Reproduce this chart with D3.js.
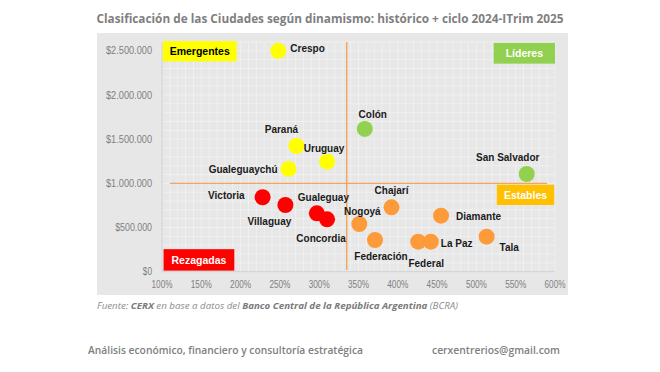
<!DOCTYPE html>
<html>
<head>
<meta charset="utf-8">
<script src="https://cdn.jsdelivr.net/npm/d3@7"></script>
<style>
  body { margin: 0; background: #fff; }
  svg { display: block; }
</style>
</head>
<body>
<svg id="chart" width="660" height="372"></svg>
<script>
// Datos
var ciudades = ["Crespo", "Paraná", "Uruguay", "Gualeguaychú", "Victoria", "Villaguay", "Gualeguay", "Concordia",
  "Colón", "San Salvador", "Chajarí", "Nogoyá", "Diamante", "Federación", "Federal", "La Paz", "Tala"];
var dinamismo = [248, 271, 310, 261, 228, 257, 297, 310, 358, 564, 392, 351, 455, 371, 426, 442, 513];
var valores = [2500000, 1423000, 1245000, 1163000, 843000, 755000, 661000, 593000,
  1616000, 1106000, 729000, 540000, 634000, 359000, 340000, 340000, 396000];
var grupos = ["Emergentes", "Emergentes", "Emergentes", "Emergentes", "Rezagadas", "Rezagadas", "Rezagadas", "Rezagadas",
  "Líderes", "Líderes", "Estables", "Estables", "Estables", "Estables", "Estables", "Estables", "Estables"];

var xTicks = [100, 150, 200, 250, 300, 350, 400, 450, 500, 550, 600];
var yTicks = [0, 500000, 1000000, 1500000, 2000000, 2500000];
var corteX = 335;       // promedio dinamismo
var corteY = 1000000;   // promedio valor

var colores = { "Emergentes": "#FFFF00", "Líderes": "#92D050", "Estables": "#FD9A3A", "Rezagadas": "#FF0000" };

// Posición de las etiquetas de cada ciudad (desplazamiento en px)
var etiquetas = {
  "Crespo": [12, -3, "start"], "Paraná": [-15, -17, "middle"], "Uruguay": [-3, -14, "middle"],
  "Gualeguaychú": [-11, 0, "end"], "Victoria": [-18, -2, "end"], "Villaguay": [-16, 16, "middle"],
  "Gualeguay": [-19, -16, "start"], "Concordia": [-6, 19, "middle"], "Colón": [8, -15, "middle"],
  "San Salvador": [-19, -17, "middle"], "Chajarí": [0, -17, "middle"], "Nogoyá": [3, -13, "middle"],
  "Diamante": [15, 0, "start"], "Federación": [6, 16, "middle"], "Federal": [8, 21, "middle"],
  "La Paz": [10, 1, "start"], "Tala": [13, 10, "start"]
};

var svg = d3.select("#chart");

var x = d3.scaleLinear().domain([100, 600]).range([162, 555]);
var y = d3.scaleLinear().domain([0, 2600000]).range([271.7, 42]);

// Título
svg.append("text")
  .attr("x", 330).attr("y", 23)
  .attr("text-anchor", "middle")
  .attr("font-family", "Open Sans, Noto Sans, sans-serif")
  .attr("font-weight", "bold").attr("font-size", 13)
  .attr("fill", "#7f7f7f")
  .attr("textLength", 467).attr("lengthAdjust", "spacingAndGlyphs")
  .text("Clasificación de las Ciudades según dinamismo: histórico + ciclo 2024-ITrim 2025");

// Fondo gris
svg.append("rect").attr("x", 97).attr("y", 33).attr("width", 471).attr("height", 262).attr("fill", "#e7e7e7");

// Rejilla fina
var minX = d3.range(100, 601, 10), minY = d3.range(0, 2600001, 100000);
svg.append("g").selectAll("line").data(minX).enter().append("line")
  .attr("x1", function(d) { return x(d); }).attr("x2", function(d) { return x(d); })
  .attr("y1", y(0)).attr("y2", y(2600000))
  .attr("stroke", "#f3f3f3").attr("stroke-width", 0.7);
svg.append("g").selectAll("line").data(minY).enter().append("line")
  .attr("x1", x(100)).attr("x2", x(600))
  .attr("y1", function(d) { return y(d); }).attr("y2", function(d) { return y(d); })
  .attr("stroke", "#f3f3f3").attr("stroke-width", 0.7);

// Ejes
svg.append("line").attr("x1", x(100)).attr("x2", x(100)).attr("y1", y(0)).attr("y2", y(2600000))
  .attr("stroke", "#cfcfcf");
svg.append("line").attr("x1", x(100)).attr("x2", x(600)).attr("y1", y(0)).attr("y2", y(0))
  .attr("stroke", "#cfcfcf");

var fmt = function(d) { return "$" + d3.format(",")(d).replace(/,/g, "."); };

svg.append("g").selectAll("text").data(yTicks).enter().append("text")
  .attr("x", 152).attr("y", function(d) { return y(d) + 3.5; })
  .attr("text-anchor", "end")
  .attr("font-family", "Liberation Sans, Arial, sans-serif")
  .attr("font-size", 10).attr("fill", "#7f7f7f")
  .attr("textLength", function(d) { return fmt(d).length * 4.6; })
  .attr("lengthAdjust", "spacingAndGlyphs")
  .text(fmt);

svg.append("g").selectAll("text").data(xTicks).enter().append("text")
  .attr("x", function(d) { return x(d); }).attr("y", 288)
  .attr("text-anchor", "middle")
  .attr("font-family", "Liberation Sans, Arial, sans-serif")
  .attr("font-size", 10).attr("fill", "#7f7f7f")
  .attr("textLength", 21).attr("lengthAdjust", "spacingAndGlyphs")
  .text(function(d) { return d + "%"; });

// Líneas de corte
svg.append("line").attr("x1", x(corteX)).attr("x2", x(corteX)).attr("y1", y(2600000)).attr("y2", y(0) - 2)
  .attr("stroke", "#F4A55C").attr("stroke-width", 1.4);
svg.append("line").attr("x1", x(110)).attr("x2", x(590)).attr("y1", y(corteY)).attr("y2", y(corteY))
  .attr("stroke", "#F4A55C").attr("stroke-width", 1.4);

// Cajas de cuadrante
var cajas = [
  { t: "Emergentes", x0: 101, x1: 195, y0: 2610000, y1: 2380000, fg: "#000", bg: "#FFFF00" },
  { t: "Líderes", x0: 522, x1: 600, y0: 2590000, y1: 2355000, fg: "#fff", bg: "#92D050" },
  { t: "Estables", x0: 526, x1: 599, y0: 985000, y1: 755000, fg: "#fff", bg: "#FFC000" },
  { t: "Rezagadas", x0: 102, x1: 192, y0: 255000, y1: 12000, fg: "#fff", bg: "#FF0000" }
];
var gc = svg.append("g").selectAll("g").data(cajas).enter().append("g");
gc.append("rect")
  .attr("x", function(d) { return x(d.x0); }).attr("y", function(d) { return y(d.y0); })
  .attr("width", function(d) { return x(d.x1) - x(d.x0); })
  .attr("height", function(d) { return y(d.y1) - y(d.y0); })
  .attr("fill", function(d) { return d.bg; });
gc.append("text")
  .attr("x", function(d) { return (x(d.x0) + x(d.x1)) / 2; })
  .attr("y", function(d) { return (y(d.y0) + y(d.y1)) / 2 + 4; })
  .attr("text-anchor", "middle")
  .attr("font-family", "Liberation Sans, Arial, sans-serif")
  .attr("font-weight", "bold").attr("font-size", 10.5)
  .attr("fill", function(d) { return d.fg; })
  .text(function(d) { return d.t; });

// Puntos
var puntos = ciudades.map(function(c, i) {
  return { c: c, x: dinamismo[i], y: valores[i], g: grupos[i] };
});
svg.append("g").selectAll("circle").data(puntos).enter().append("circle")
  .attr("cx", function(d) { return x(d.x); }).attr("cy", function(d) { return y(d.y); })
  .attr("r", 8)
  .attr("fill", function(d) { return colores[d.g]; });

svg.append("g").selectAll("text").data(puntos).enter().append("text")
  .attr("x", function(d) { return x(d.x) + etiquetas[d.c][0]; })
  .attr("y", function(d) { return y(d.y) + etiquetas[d.c][1] + 4; })
  .attr("text-anchor", function(d) { return etiquetas[d.c][2]; })
  .attr("font-family", "Liberation Sans, Arial, sans-serif")
  .attr("font-weight", "bold").attr("font-size", 10)
  .attr("fill", "#1a1a1a")
  .text(function(d) { return d.c; });

// Fuente
var fuente = svg.append("text").attr("x", 97).attr("y", 309)
  .attr("font-family", "Open Sans, Noto Sans, sans-serif")
  .attr("font-style", "italic").attr("font-size", 9.5).attr("fill", "#8c8c8c")
  .attr("textLength", 361).attr("lengthAdjust", "spacingAndGlyphs");
fuente.append("tspan").text("Fuente: ");
fuente.append("tspan").attr("font-weight", "bold").attr("fill", "#7a7a7a").text("CERX");
fuente.append("tspan").text(" en base a datos del ");
fuente.append("tspan").attr("font-weight", "bold").attr("fill", "#7a7a7a").text("Banco Central de la República Argentina");
fuente.append("tspan").text(" (BCRA)");

// Pie
svg.append("text").attr("x", 88).attr("y", 354)
  .attr("font-family", "Open Sans, Noto Sans, sans-serif")
  .attr("font-size", 11).attr("font-weight", 600).attr("fill", "#808080")
  .attr("textLength", 275).attr("lengthAdjust", "spacingAndGlyphs")
  .text("Análisis económico, financiero y consultoría estratégica");
svg.append("text").attr("x", 432).attr("y", 354)
  .attr("font-family", "Open Sans, Noto Sans, sans-serif")
  .attr("font-size", 11).attr("font-weight", 600).attr("fill", "#808080")
  .attr("textLength", 128).attr("lengthAdjust", "spacingAndGlyphs")
  .text("cerxentrerios@gmail.com");
</script>
</body>
</html>
